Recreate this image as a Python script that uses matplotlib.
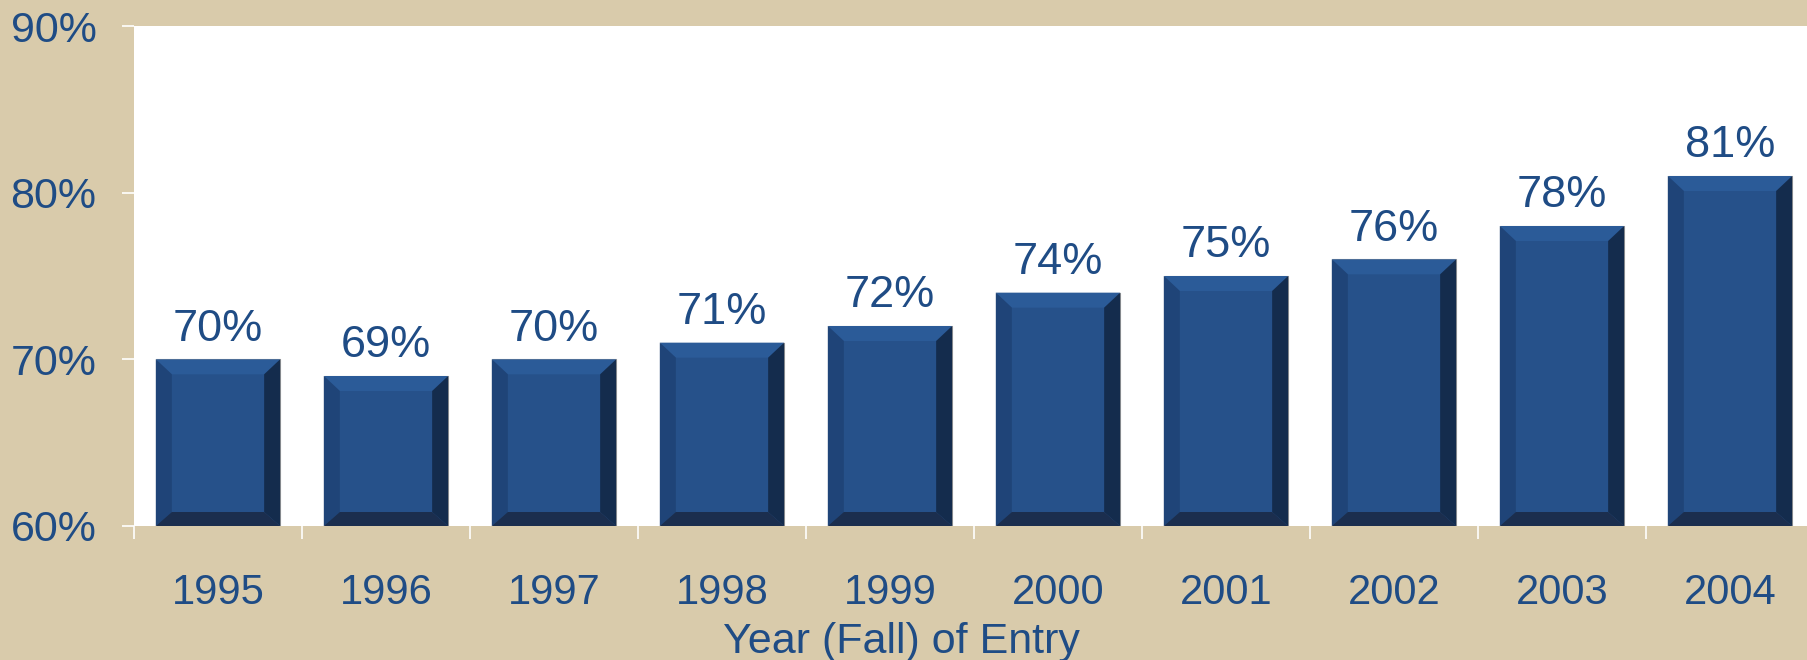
import matplotlib.pyplot as plt
from matplotlib.patches import Polygon

years = ['1995', '1996', '1997', '1998', '1999', '2000', '2001', '2002', '2003', '2004']
rates = [70, 69, 70, 71, 72, 74, 75, 76, 78, 81]
yticks = [60, 70, 80, 90]

bg = '#d9cbab'
txt = '#1f4c85'
face = '#26518a'
bevel_top = '#2b5b98'
bevel_left = '#1f4478'
bevel_right = '#142c4d'
bevel_bottom = '#1b2e4e'

plt.rcParams['font.family'] = ['Liberation Sans', 'DejaVu Sans']

W, H, dpi = 1808, 660, 100
fig = plt.figure(figsize=(W / dpi, H / dpi), dpi=dpi, facecolor=bg)
left, right, top, bottom = 134, 1814, 26, 526
ax = fig.add_axes([left / W, 1 - bottom / H, (right - left) / W, (bottom - top) / H])
ax.set_facecolor('white')

x = list(range(len(years)))
ax.set_xlim(-0.5, len(years) - 0.5)
ax.set_ylim(60, 90)

bars = ax.bar(x, [r - 60 for r in rates], bottom=60, width=0.74, color=face,
              edgecolor='#9a9a9a', linewidth=0.8, zorder=2)

# pixel -> data conversion for bevels
px_x = (len(years)) / (right - left)
px_y = 30 / (bottom - top)
bx = 16 * px_x
by_top = 15 * px_y
by_bot = 14 * px_y
for b in bars:
    x0, y0 = b.get_x(), b.get_y()
    x1, y1 = x0 + b.get_width(), y0 + b.get_height()
    polys = [
        ([(x0, y1), (x1, y1), (x1 - bx, y1 - by_top), (x0 + bx, y1 - by_top)], bevel_top),
        ([(x0, y0), (x0, y1), (x0 + bx, y1 - by_top), (x0 + bx, y0 + by_bot)], bevel_left),
        ([(x1, y0), (x1, y1), (x1 - bx, y1 - by_top), (x1 - bx, y0 + by_bot)], bevel_right),
        ([(x0, y0), (x1, y0), (x1 - bx, y0 + by_bot), (x0 + bx, y0 + by_bot)], bevel_bottom),
    ]
    for pts, c in polys:
        ax.add_patch(Polygon(pts, closed=True, facecolor=c, edgecolor='none', zorder=3))

for xi, r in zip(x, rates):
    ax.annotate(f'{r}%', (xi, r), xytext=(0, 7), textcoords='offset points',
                ha='center', va='bottom', fontsize=32.5, color=txt)

for s in ax.spines.values():
    s.set_visible(False)

ax.set_yticks(yticks)
ax.set_yticklabels([f'{v}%' for v in yticks])
ax.set_xticks([i - 0.5 for i in range(len(years) + 1)])
ax.set_xticklabels([])
ax.set_xticks(x, minor=True)
ax.set_xticklabels(years, minor=True)
ax.tick_params(axis='y', colors='white', length=9, width=1.2, labelcolor=txt,
               labelsize=31, pad=18)
ax.tick_params(axis='x', which='major', colors='white', length=9, width=1.2)
ax.tick_params(axis='x', which='minor', length=0, labelcolor=txt, labelsize=30, pad=34)

fig.text(901 / W, 1 - 642 / H, 'Year (Fall) of Entry', ha='center', va='center',
         fontsize=31, color=txt)

fig.savefig('out.png', dpi=dpi, facecolor=bg)
